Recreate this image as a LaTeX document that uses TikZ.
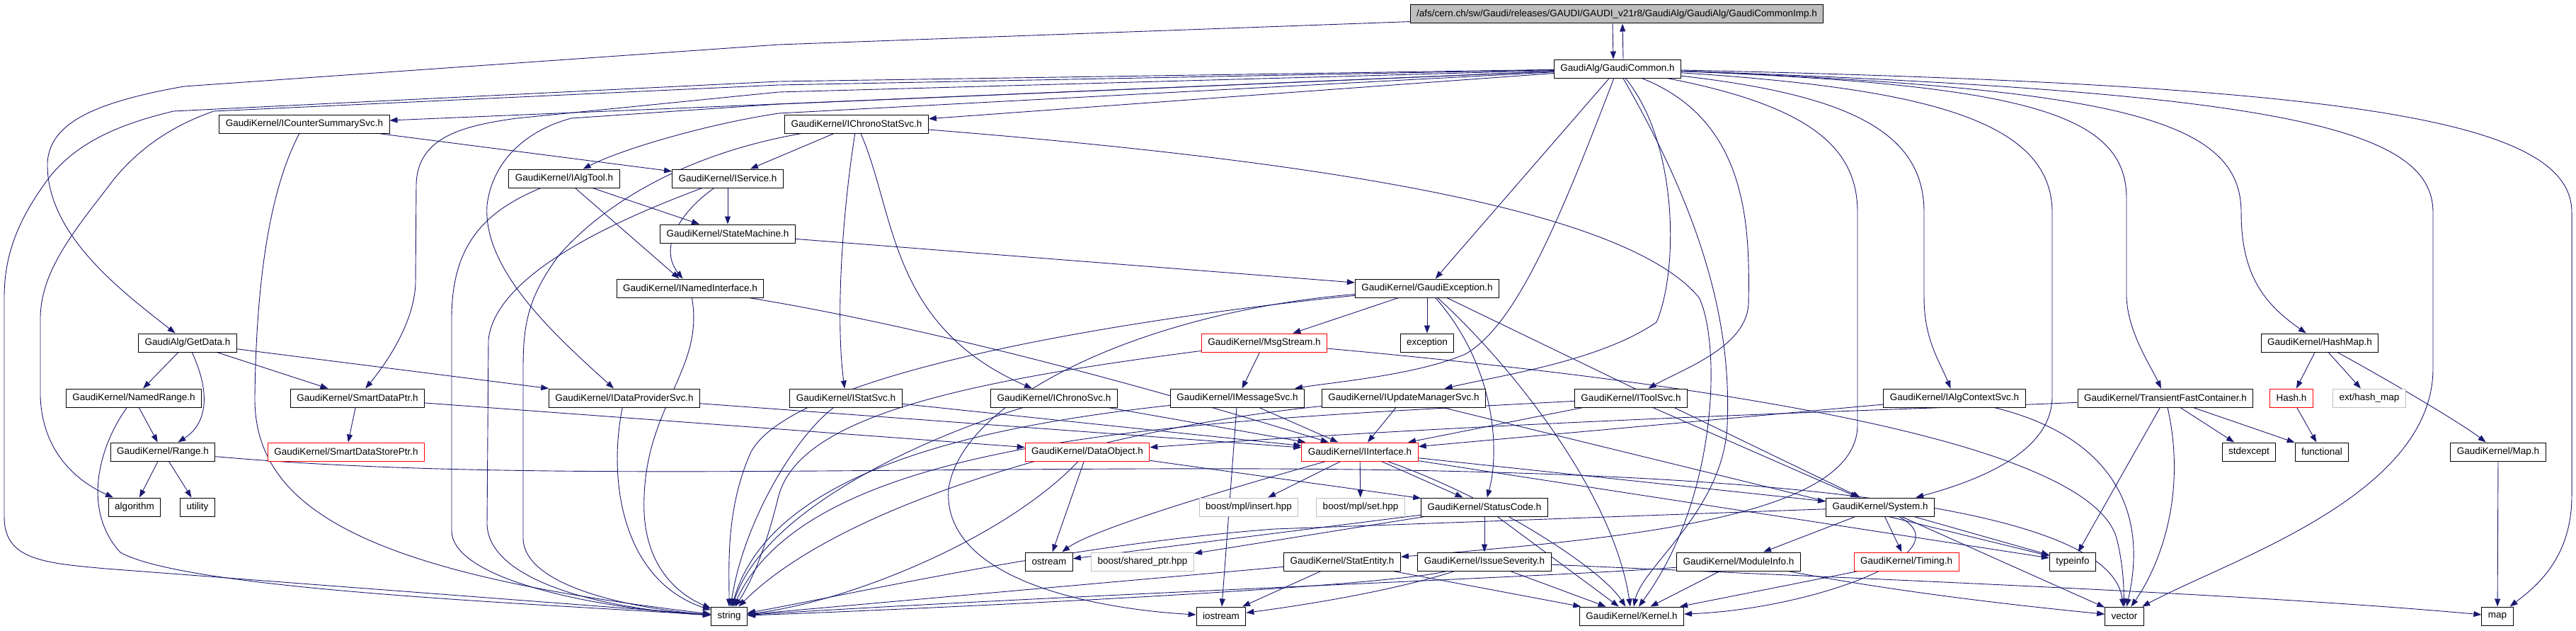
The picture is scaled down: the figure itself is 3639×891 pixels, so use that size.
\documentclass[tikz,border=0pt]{standalone}
\usepackage{fontspec}
\setmainfont{Liberation Sans}
\usetikzlibrary{arrows.meta, positioning}
\pgfdeclarelayer{background}
\pgfsetlayers{background,main}
\definecolor{edgeblue}{HTML}{191970}
\definecolor{boxgray}{HTML}{BFBFBF}

\tikzset{
  file/.style={draw=black, line width=1pt, fill=white, minimum height=26pt,
    inner xsep=9pt, inner ysep=0pt, font=\fontsize{13.5}{16}\selectfont},
  redfile/.style={file, draw=red},
  sysfile/.style={file, draw=boxgray},
  topfile/.style={file, fill=boxgray},
  dep/.style={draw=edgeblue, line width=0.9pt, -{Triangle[length=11pt, width=8pt]}},
}

\begin{document}
\begin{tikzpicture}[x=1pt, y=-1pt]
    \useasboundingbox (0,0) rectangle (3639,891);

    % =================================================================
    % FILES (one row per rank)
    % =================================================================
    \node[topfile] (imp) at (2284,20) {/afs/cern.ch/sw/Gaudi/releases/GAUDI/GAUDI\_v21r8/GaudiAlg/GaudiAlg/GaudiCommonImp.h};
    \node[file] (gc) at (2285,97) {GaudiAlg/GaudiCommon.h};

    \node[file] (csum) at (430,175) {GaudiKernel/ICounterSummarySvc.h};
    \node[file] (ichrst) at (1210,175) {GaudiKernel/IChronoStatSvc.h};

    \node[file] (ialgt) at (797,252) {GaudiKernel/IAlgTool.h};
    \node[file] (isvc) at (1028,252) {GaudiKernel/IService.h};

    \node[file] (statem) at (1028,330) {GaudiKernel/StateMachine.h};

    \node[file] (inamed) at (975,407) {GaudiKernel/INamedInterface.h};
    \node[file] (gexc) at (2016,407) {GaudiKernel/GaudiException.h};

    \node[file] (getd) at (265,484) {GaudiAlg/GetData.h};
    \node[redfile] (msgs) at (1786,484) {GaudiKernel/MsgStream.h};
    \node[file] (exc) at (2016,484) {exception};
    \node[file] (hmap) at (3277,484) {GaudiKernel/HashMap.h};

    \node[file] (nrange) at (189,562) {GaudiKernel/NamedRange.h};
    \node[file] (sdptr) at (505,562) {GaudiKernel/SmartDataPtr.h};
    \node[file] (idps) at (882,562) {GaudiKernel/IDataProviderSvc.h};
    \node[file] (istat) at (1195,562) {GaudiKernel/IStatSvc.h};
    \node[file] (ichron) at (1489,562) {GaudiKernel/IChronoSvc.h};
    \node[file] (imsg) at (1748,562) {GaudiKernel/IMessageSvc.h};
    \node[file] (iupd) at (1983,562) {GaudiKernel/IUpdateManagerSvc.h};
    \node[file] (itool) at (2304,562) {GaudiKernel/IToolSvc.h};
    \node[file] (ictx) at (2761,562) {GaudiKernel/IAlgContextSvc.h};
    \node[file] (tfc) at (3059,562) {GaudiKernel/TransientFastContainer.h};
    \node[redfile] (hash) at (3237,562) {Hash.h};
    \node[sysfile] (exthm) at (3347,562) {ext/hash\_map};

    \node[file] (range) at (230,638) {GaudiKernel/Range.h};
    \node[redfile] (sdsptr) at (489,638) {GaudiKernel/SmartDataStorePtr.h};
    \node[redfile] (dobj) at (1536,638) {GaudiKernel/DataObject.h};
    \node[redfile] (iintf) at (1921,638) {GaudiKernel/IInterface.h};
    \node[file] (stdexc) at (3177,638) {stdexcept};
    \node[file] (func) at (3280,638) {functional};
    \node[file] (mapu) at (3529,638) {GaudiKernel/Map.h};

    \node[file] (algo) at (190,716) {algorithm};
    \node[file] (util) at (279,716) {utility};
    \node[sysfile] (mplins) at (1764,716) {boost/mpl/insert.hpp};
    \node[sysfile] (mplset) at (1922,716) {boost/mpl/set.hpp};
    \node[file] (stcode) at (2097,716) {GaudiKernel/StatusCode.h};
    \node[file] (system) at (2656,716) {GaudiKernel/System.h};

    \node[file] (ostr) at (1482,793) {ostream};
    \node[sysfile] (shptr) at (1614,793) {boost/shared\_ptr.hpp};
    \node[file] (statent) at (1896,793) {GaudiKernel/StatEntity.h};
    \node[file] (issue) at (2097,793) {GaudiKernel/IssueSeverity.h};
    \node[file] (modinfo) at (2456,793) {GaudiKernel/ModuleInfo.h};
    \node[redfile] (timing) at (2693,793) {GaudiKernel/Timing.h};
    \node[file] (tinfo) at (2928,793) {typeinfo};

    \node[file] (str) at (1030,870) {string};
    \node[file] (iostr) at (1725,870) {iostream};
    \node[file] (kernel) at (2305,870) {GaudiKernel/Kernel.h};
    \node[file] (vec) at (3001,870) {vector};
    \node[file] (stlmap) at (3528,870) {map};

    \begin{pgfonlayer}{background}
    % =================================================================
    % INCLUDES OF THE TOP FILES
    % =================================================================
    \draw[dep] ([xshift=-6pt]imp.south) -- ([xshift=-6pt]gc.north);
    \draw[dep] ([xshift=8pt]gc.north) -- ([xshift=8pt]imp.south);
    \draw[dep] (imp) -- (1100,63) -- (260,122) .. controls (130,145) and (70,175) .. (67,230) .. controls (65,330) and (170,410) .. (getd);

    % GaudiCommon.h, to the left
    \draw[dep] (gc) -- (1100,115) -- (245,157) .. controls (170,175) and (110,200) .. (70,250) .. controls (25,310) and (6,360) .. (6,420) -- (6,730) .. controls (6,790) and (60,795) .. (150,803) -- (str);
    \draw[dep] (gc) -- (1100,120) -- (302,157) .. controls (250,175) and (200,205) .. (161,253) .. controls (110,320) and (57,380) .. (57,450) -- (57,560) .. controls (60,640) and (110,680) .. (algo);
    \draw[dep] (gc) -- (csum);
    \draw[dep] (gc) -- (1100,130) -- (730,167) .. controls (650,178) and (590,195) .. (588,260) -- (587,400) .. controls (585,460) and (540,520) .. (sdptr);
    \draw[dep] (gc) -- (1100,147) -- (807,167) .. controls (740,185) and (695,230) .. (688,290) .. controls (682,380) and (780,470) .. (idps);
    \draw[dep] (gc) -- (1100,160) .. controls (1000,175) and (880,210) .. (ialgt);
    \draw[dep] (gc) -- (ichrst);

    % GaudiCommon.h, downwards
    \draw[dep] (gc) -- (gexc);
    \draw[dep] (gc) .. controls (2200,320) and (2140,460) .. (2070,500) .. controls (2000,530) and (1880,540) .. (imsg);
    \draw[dep] (gc) .. controls (2370,200) and (2372,380) .. (2340,455) .. controls (2260,510) and (2120,530) .. (iupd);
    \draw[dep] (gc) .. controls (2470,170) and (2472,320) .. (2470,430) .. controls (2466,490) and (2380,520) .. (itool);
    \draw[dep] (gc) .. controls (2420,330) and (2445,480) .. (2440,600) .. controls (2435,720) and (2320,800) .. (kernel);
    \draw[dep] (gc) .. controls (2560,150) and (2624,210) .. (2624,300) -- (2624,600) .. controls (2624,730) and (2300,760) .. (statent);

    % GaudiCommon.h, to the right
    \draw[dep] (gc) .. controls (2620,135) and (2718,190) .. (2718,300) -- (2718,420) .. controls (2718,480) and (2740,510) .. (ictx);
    \draw[dep] (gc) .. controls (2720,125) and (2899,170) .. (2899,300) -- (2899,560) .. controls (2899,640) and (2790,680) .. (system);
    \draw[dep] (gc) .. controls (2860,120) and (3004,160) .. (3004,280) -- (3004,420) .. controls (3006,470) and (3040,520) .. (tfc);
    \draw[dep] (gc) .. controls (3000,125) and (3166,170) .. (3166,300) .. controls (3166,390) and (3200,430) .. (hmap);
    \draw[dep] (gc) .. controls (3220,130) and (3437,180) .. (3437,300) -- (3437,520) .. controls (3437,700) and (3150,790) .. (vec);
    \draw[dep] (gc) .. controls (3330,120) and (3633,170) .. (3633,300) -- (3633,700) .. controls (3633,790) and (3580,830) .. (stlmap);

    % =================================================================
    % SERVICE INTERFACES
    % =================================================================
    \draw[dep] (csum) -- (isvc);
    \draw[dep] (csum) .. controls (380,270) and (362,400) .. (360,560) .. controls (358,720) and (520,810) .. (str);

    \draw[dep] (ichrst) -- (isvc);
    \draw[dep] (ichrst) .. controls (1190,300) and (1180,450) .. (istat);
    \draw[dep] (ichrst) .. controls (1265,300) and (1255,460) .. (ichron);
    \draw[dep] (ichrst) .. controls (980,215) and (860,280) .. (790,360) .. controls (745,420) and (739,460) .. (739,520) -- (739,760) .. controls (740,830) and (900,860) .. (str);
    \draw[dep] (ichrst) .. controls (1900,230) and (2300,300) .. (2400,420) .. controls (2430,480) and (2430,700) .. (kernel);

    \draw[dep] (ialgt) -- (inamed);
    \draw[dep] (ialgt) -- (statem);
    \draw[dep] (ialgt) .. controls (680,300) and (638,350) .. (638,450) -- (638,750) .. controls (640,820) and (850,860) .. (str);

    \draw[dep] (isvc) -- (statem);
    \draw[dep] (isvc) .. controls (960,300) and (930,350) .. (inamed);
    \draw[dep] (isvc) .. controls (900,300) and (700,380) .. (690,480) -- (688,740) .. controls (690,820) and (850,860) .. (str);

    \draw[dep] (statem) -- (gexc);

    \draw[dep] (inamed) .. controls (1300,460) and (1600,540) .. (iintf);
    \draw[dep] (inamed) .. controls (995,520) and (915,570) .. (910,700) .. controls (905,800) and (960,840) .. (str);

    % =================================================================
    % GAUDIEXCEPTION AND MESSAGES
    % =================================================================
    \draw[dep] (gexc) -- (msgs);
    \draw[dep] (gexc) -- (exc);
    \draw[dep] (gexc) .. controls (2115,520) and (2118,640) .. (stcode);
    \draw[dep] (gexc) .. controls (2140,520) and (2280,700) .. (kernel);
    \draw[dep] (gexc) -- (system);
    \draw[dep] (gexc) .. controls (1640,445) and (1120,520) .. (1060,640) .. controls (1025,720) and (1030,800) .. (str);
    \draw[dep] (gexc) .. controls (1620,440) and (1360,560) .. (1340,690) .. controls (1330,820) and (1550,860) .. (iostr);

    \draw[dep] (msgs) -- (imsg);
    \draw[dep] (msgs) .. controls (1350,540) and (1130,590) .. (1100,700) .. controls (1080,780) and (1062,820) .. (str);
    \draw[dep] (msgs) .. controls (2400,540) and (2950,620) .. (2990,760) .. controls (3000,800) and (3000,830) .. (vec);

    \draw[dep] (imsg) -- (iintf);
    \draw[dep] (imsg) .. controls (1400,600) and (1090,660) .. (str);
    \draw[dep] (imsg) -- (iostr);

    % =================================================================
    % DATA ACCESS
    % =================================================================
    \draw[dep] (idps) -- (iintf);
    \draw[dep] (idps) .. controls (858,680) and (880,820) .. (str);

    \draw[dep] (getd) -- (nrange);
    \draw[dep] (getd) .. controls (300,560) and (290,600) .. (range);
    \draw[dep] (getd) -- (sdptr);
    \draw[dep] (getd) -- (idps);

    \draw[dep] (nrange) -- (range);
    \draw[dep] (nrange) .. controls (140,630) and (115,720) .. (170,780) .. controls (260,830) and (700,850) .. (str);

    \draw[dep] (range) -- (algo);
    \draw[dep] (range) -- (util);
    \draw[dep] (range) .. controls (700,680) and (1200,660) .. (1800,662) .. controls (2400,665) and (2980,700) .. (vec);

    \draw[dep] (sdptr) -- (sdsptr);
    \draw[dep] (sdptr) -- (dobj);

    \draw[dep] (istat) -- (iintf);
    \draw[dep] (istat) .. controls (1120,620) and (1050,740) .. (str);
    \draw[dep] (ichron) -- (iintf);
    \draw[dep] (ichron) .. controls (1300,620) and (1080,720) .. (str);

    \draw[dep] (dobj) -- (ostr);
    \draw[dep] (dobj) .. controls (1420,760) and (1200,850) .. (str);
    \draw[dep] (dobj) -- (stcode);

    \draw[dep] (iupd) -- (iintf);
    \draw[dep] (iupd) .. controls (1600,600) and (1200,700) .. (str);
    \draw[dep] (iupd) -- (tinfo);

    \draw[dep] (itool) -- (iintf);
    \draw[dep] (itool) -- (system);
    \draw[dep] (itool) .. controls (1700,595) and (1150,610) .. (str);

    \draw[dep] (ictx) -- (iintf);
    \draw[dep] (ictx) .. controls (2960,610) and (3040,700) .. (vec);

    % =================================================================
    % CONTAINERS
    % =================================================================
    \draw[dep] (tfc) -- (tinfo);
    \draw[dep] (tfc) .. controls (3090,700) and (3050,800) .. (vec);
    \draw[dep] (tfc) -- (stdexc);
    \draw[dep] (tfc) -- (func);
    \draw[dep] (tfc) .. controls (2800,575) and (2200,590) .. (dobj);

    \draw[dep] (hmap) -- (hash);
    \draw[dep] (hmap) -- (exthm);
    \draw[dep] (hmap) .. controls (3380,540) and (3480,600) .. (mapu);
    \draw[dep] (hash) -- (func);
    \draw[dep] (mapu) -- (stlmap);

    % =================================================================
    % KERNEL BASICS
    % =================================================================
    \draw[dep] (iintf) -- (mplins);
    \draw[dep] (iintf) -- (mplset);
    \draw[dep] (iintf) -- (stcode);
    \draw[dep] (iintf) -- (system);
    \draw[dep] (iintf) .. controls (2100,700) and (2260,800) .. (kernel);
    \draw[dep] (iintf) .. controls (1700,700) and (1540,750) .. (ostr);
    \draw[dep] (iintf) -- (tinfo);

    \draw[dep] (stcode) -- (issue);
    \draw[dep] (stcode) -- (kernel);
    \draw[dep] (stcode) -- (ostr);
    \draw[dep] (stcode) -- (shptr);

    \draw[dep] (statent) -- (str);
    \draw[dep] (statent) -- (iostr);
    \draw[dep] (statent) -- (kernel);

    \draw[dep] (issue) -- (kernel);
    \draw[dep] (issue) .. controls (1950,830) and (1300,860) .. (str);
    \draw[dep] (issue) .. controls (1950,840) and (1800,860) .. (iostr);
    \draw[dep] (issue) .. controls (2700,820) and (3200,840) .. (stlmap);

    \draw[dep] (system) -- (modinfo);
    \draw[dep] (system) -- (timing);
    \draw[dep] (system) .. controls (2780,780) and (2560,860) .. (kernel);
    \draw[dep] (system) -- (tinfo);
    \draw[dep] (system) -- (vec);
    \draw[dep] (system) -- (1800,747) .. controls (1500,770) and (1200,840) .. (str);

    \draw[dep] (modinfo) -- (kernel);
    \draw[dep] (modinfo) .. controls (2250,812) and (1500,840) .. (str);
    \draw[dep] (modinfo) .. controls (2700,840) and (2900,860) .. (vec);

    \draw[dep] (timing) -- (kernel);
    \end{pgfonlayer}

\end{tikzpicture}
\end{document}
